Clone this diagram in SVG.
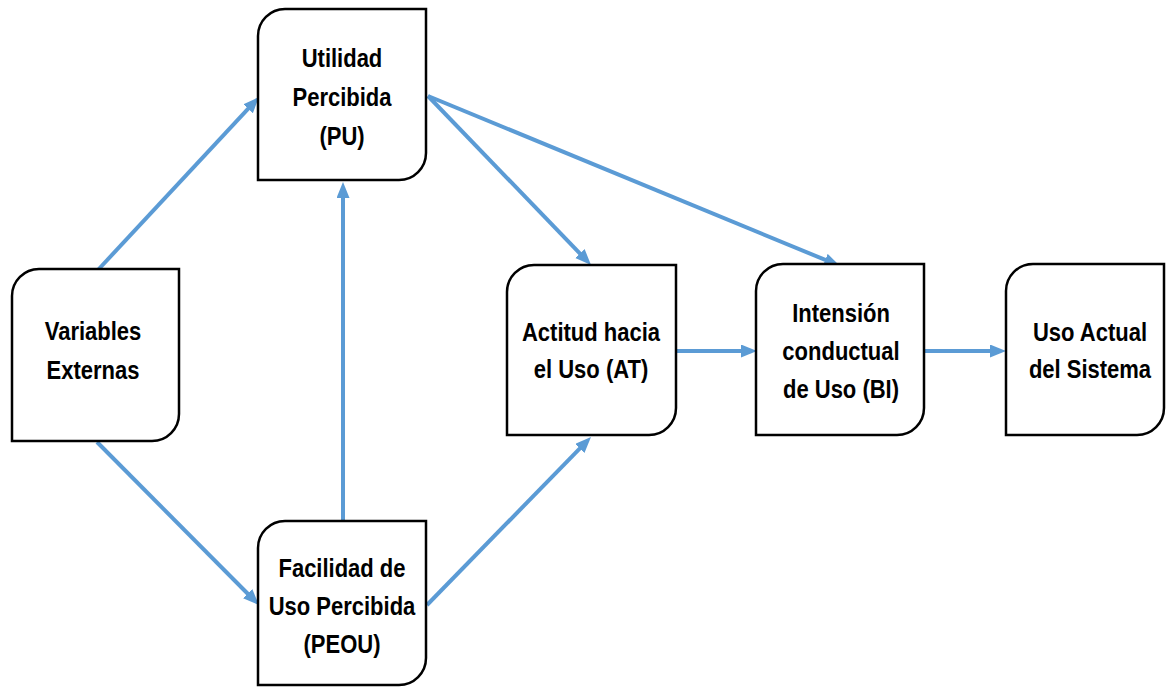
<svg xmlns="http://www.w3.org/2000/svg" width="1166" height="688" viewBox="0 0 1166 688">
<style>
.box{fill:#fff;stroke:#000;stroke-width:2.5}
.lbl{font-family:"Liberation Sans",Arial,sans-serif;font-weight:bold;font-size:25px;fill:#000;text-anchor:middle}
.conn{stroke:#5B9BD5;stroke-width:4;fill:none;marker-end:url(#ah)}
</style>
<defs>
<marker id="ah" markerUnits="userSpaceOnUse" markerWidth="18" markerHeight="15" refX="4" refY="6.5" orient="auto">
<path d="M0,0 L16,6.5 L0,13 Z" fill="#5B9BD5"/>
</marker>
</defs>
<rect width="1166" height="688" fill="#fff"/>
<g id="connectors">
<line class="conn" x1="97" y1="271" x2="250.8" y2="105.8"/>
<line class="conn" x1="97" y1="442" x2="250.5" y2="596.5"/>
<line class="conn" x1="343" y1="521" x2="343" y2="194"/>
<line class="conn" x1="428" y1="96" x2="582.7" y2="256.4"/>
<line class="conn" x1="428" y1="96" x2="828.9" y2="261.4"/>
<line class="conn" x1="427" y1="605" x2="582.6" y2="445.6"/>
<line class="conn" x1="676" y1="351" x2="745" y2="351"/>
<line class="conn" x1="924" y1="351" x2="994" y2="351"/>
</g>
<g id="ve">
<path class="box" d="M39,269 H179 V414 A27,27 0 0 1 152,441 H12 V296 A27,27 0 0 1 39,269 Z"/>
<g transform="translate(93 0) scale(0.88 1)"><text class="lbl" x="0" y="340">Variables</text><text class="lbl" x="0" y="379">Externas</text></g>
</g>
<g id="pu">
<path class="box" d="M285,9 H426 V153 A27,27 0 0 1 399,180 H258 V36 A27,27 0 0 1 285,9 Z"/>
<g transform="translate(342 0) scale(0.88 1)"><text class="lbl" x="0" y="67">Utilidad</text><text class="lbl" x="0" y="106">Percibida</text><text class="lbl" x="0" y="145">(PU)</text></g>
</g>
<g id="peou">
<path class="box" d="M285,521 H426 V658 A27,27 0 0 1 399,685 H258 V548 A27,27 0 0 1 285,521 Z"/>
<g transform="translate(342 0) scale(0.88 1)"><text class="lbl" x="0" y="577">Facilidad de</text><text class="lbl" x="0" y="615">Uso Percibida</text><text class="lbl" x="0" y="653">(PEOU)</text></g>
</g>
<g id="at">
<path class="box" d="M534,265 H676 V408 A27,27 0 0 1 649,435 H507 V292 A27,27 0 0 1 534,265 Z"/>
<g transform="translate(591 0) scale(0.88 1)"><text class="lbl" x="0" y="341">Actitud hacia</text><text class="lbl" x="0" y="378">el Uso (AT)</text></g>
</g>
<g id="bi">
<path class="box" d="M783,264 H924 V408 A27,27 0 0 1 897,435 H756 V291 A27,27 0 0 1 783,264 Z"/>
<g transform="translate(841 0) scale(0.88 1)"><text class="lbl" x="0" y="322">Intensión</text><text class="lbl" x="0" y="360">conductual</text><text class="lbl" x="0" y="398">de Uso (BI)</text></g>
</g>
<g id="ua">
<path class="box" d="M1033,264 H1164 V408 A27,27 0 0 1 1137,435 H1006 V291 A27,27 0 0 1 1033,264 Z"/>
<g transform="translate(1090 0) scale(0.88 1)"><text class="lbl" x="0" y="341">Uso Actual</text><text class="lbl" x="0" y="378">del Sistema</text></g>
</g>
</svg>
